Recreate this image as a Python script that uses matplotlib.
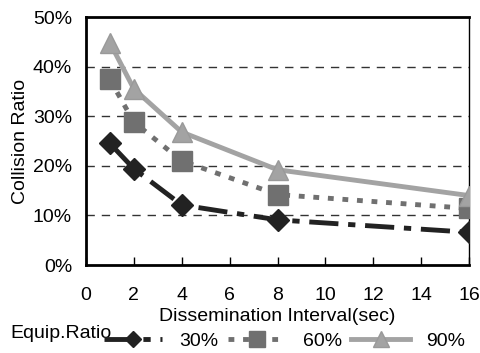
import matplotlib
matplotlib.use("Agg")
import matplotlib.pyplot as plt
from matplotlib.ticker import FuncFormatter

plt.rcParams['font.family'] = ['Liberation Sans', 'DejaVu Sans']

interval = [1, 2, 4, 8, 16]
ratio30 = [24.5, 19.4, 12.1, 9.1, 6.6]
ratio60 = [37.4, 28.8, 21.0, 14.2, 11.4]
ratio90 = [44.8, 35.5, 26.8, 19.2, 14.0]
labels = ['30%', '60%', '90%']

fs = 14

fig = plt.figure(figsize=(4.81, 3.53), dpi=100)
ax = fig.add_axes([86/481, 1 - 265/353, (469-86)/481, (265-17)/353])

ax.plot(interval, ratio30, color='#222222', lw=3.5, dashes=(6, 2, 1.5, 2),
        marker='D', ms=11, mec='#222222', label=labels[0], zorder=3)
ax.plot(interval, ratio60, color='#707070', lw=3.5, dashes=(1.2, 1.8),
        marker='s', ms=15, mec='#707070', label=labels[1], zorder=3)
ax.plot(interval, ratio90, color='#a3a3a3', lw=3.5,
        marker='^', ms=15, mec='#999999', label=labels[2], zorder=3)

for y in [10, 20, 30, 40]:
    ax.axhline(y, color='#333333', lw=1, dashes=(6, 5), zorder=1)

ax.set_xlim(0, 16)
ax.set_ylim(0, 50)
ax.set_xticks(range(0, 17, 2))
ax.set_yticks(range(0, 51, 10))
ax.yaxis.set_major_formatter(FuncFormatter(lambda v, pos: '%d%%' % v))
ax.tick_params(axis='x', direction='in', length=6, width=1, labelsize=fs, pad=16)
ax.tick_params(axis='y', length=0, labelsize=fs, pad=10)

ax.spines['left'].set_linewidth(2)
ax.spines['bottom'].set_linewidth(2)
ax.spines['top'].set_linewidth(2)
ax.spines['right'].set_linewidth(1)

ax.set_xlabel('Dissemination Interval(sec)', fontsize=fs, labelpad=3)
ax.set_ylabel('Collision Ratio', fontsize=fs, labelpad=3)

fig.text(10/481, 1 - 333/353, 'Equip.Ratio', fontsize=fs, va='center', ha='left')
fig.legend(loc='center left', bbox_to_anchor=(104/481, 1 - 341/353), ncol=3,
           frameon=False, fontsize=fs, handlelength=3.0, handletextpad=0.85,
           columnspacing=0.5, numpoints=1, borderpad=0, borderaxespad=0,
           markerscale=0.75)

fig.savefig('out.png', dpi=100)
